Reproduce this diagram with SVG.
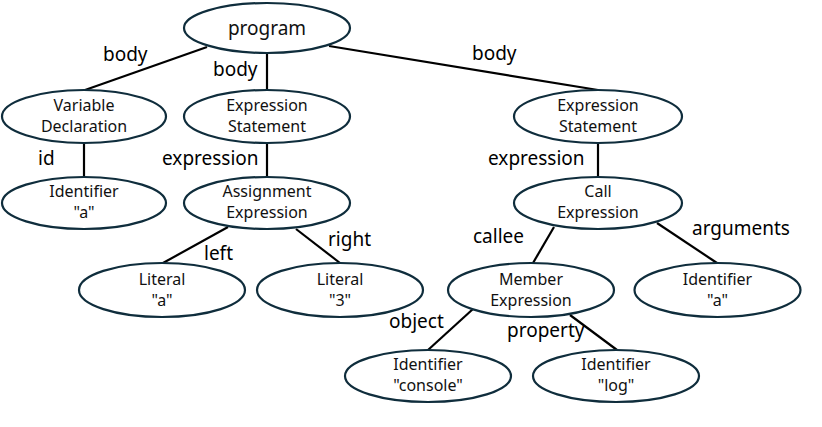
<svg xmlns="http://www.w3.org/2000/svg" width="822" height="427" viewBox="0 0 822 427">
<style>
.n ellipse{fill:#fff;stroke:#0f2d3c;stroke-width:2.2}
.n text{font-family:"Noto Sans",sans-serif;font-size:16px;fill:#111;text-anchor:middle}
.e line{stroke:#000;stroke-width:2.2}
.l{font-family:"Noto Sans",sans-serif;font-size:19px;fill:#000}
</style>
<rect width="822" height="427" fill="#fff"/>
<g class="e" id="connectors">
<line x1="207" y1="47" x2="85" y2="90"/>
<line x1="267" y1="53" x2="267" y2="90"/>
<line x1="329" y1="46" x2="598" y2="90"/>
<line x1="84" y1="143" x2="84" y2="177"/>
<line x1="267" y1="143" x2="267" y2="177"/>
<line x1="228" y1="227" x2="163" y2="263"/>
<line x1="296" y1="229" x2="340" y2="263"/>
<line x1="598" y1="143" x2="598" y2="177"/>
<line x1="554" y1="227" x2="533" y2="263"/>
<line x1="657" y1="223" x2="717" y2="263"/>
<line x1="473" y1="309" x2="428" y2="350"/>
<line x1="570" y1="315" x2="617" y2="350"/>
</g>
<g id="labels">
<text class="l" x="103" y="61">body</text>
<text class="l" x="213" y="76">body</text>
<text class="l" x="472" y="60">body</text>
<text class="l" x="38" y="165">id</text>
<text class="l" x="162" y="165">expression</text>
<text class="l" x="488" y="165">expression</text>
<text class="l" x="204" y="260">left</text>
<text class="l" x="328" y="246">right</text>
<text class="l" x="473" y="243">callee</text>
<text class="l" x="692" y="235">arguments</text>
<text class="l" x="389" y="328">object</text>
<text class="l" x="507" y="337">property</text>
</g>
<g class="n" id="program"><ellipse cx="267" cy="28" rx="83" ry="25"/><text x="267" y="35" style="font-size:19px">program</text></g>
<g class="n" id="varDecl"><ellipse cx="84" cy="116.5" rx="82" ry="26.5"/><text x="84" y="111">Variable</text><text x="84" y="132">Declaration</text></g>
<g class="n" id="exprStmt1"><ellipse cx="267" cy="116.5" rx="83" ry="26.5"/><text x="267" y="111">Expression</text><text x="267" y="132">Statement</text></g>
<g class="n" id="exprStmt2"><ellipse cx="598" cy="116.5" rx="84" ry="26.5"/><text x="598" y="111">Expression</text><text x="598" y="132">Statement</text></g>
<g class="n" id="idA1"><ellipse cx="84" cy="203" rx="82" ry="26"/><text x="84" y="197">Identifier</text><text x="84" y="218">"a"</text></g>
<g class="n" id="assign"><ellipse cx="267" cy="203" rx="83" ry="26"/><text x="267" y="197">Assignment</text><text x="267" y="218">Expression</text></g>
<g class="n" id="call"><ellipse cx="598" cy="203" rx="84" ry="26"/><text x="598" y="197">Call</text><text x="598" y="218">Expression</text></g>
<g class="n" id="litA"><ellipse cx="162" cy="290" rx="83" ry="27"/><text x="162" y="285">Literal</text><text x="162" y="306">"a"</text></g>
<g class="n" id="lit3"><ellipse cx="340" cy="290" rx="83" ry="27"/><text x="340" y="285">Literal</text><text x="340" y="306">"3"</text></g>
<g class="n" id="member"><ellipse cx="531" cy="290" rx="83" ry="27"/><text x="531" y="285">Member</text><text x="531" y="306">Expression</text></g>
<g class="n" id="idA2"><ellipse cx="717.5" cy="290" rx="83" ry="27"/><text x="717.5" y="285">Identifier</text><text x="717.5" y="306">"a"</text></g>
<g class="n" id="console"><ellipse cx="428" cy="376" rx="83" ry="26"/><text x="428" y="370">Identifier</text><text x="428" y="391">"console"</text></g>
<g class="n" id="log"><ellipse cx="616" cy="376" rx="83" ry="26"/><text x="616" y="370">Identifier</text><text x="616" y="391">"log"</text></g>
</svg>
